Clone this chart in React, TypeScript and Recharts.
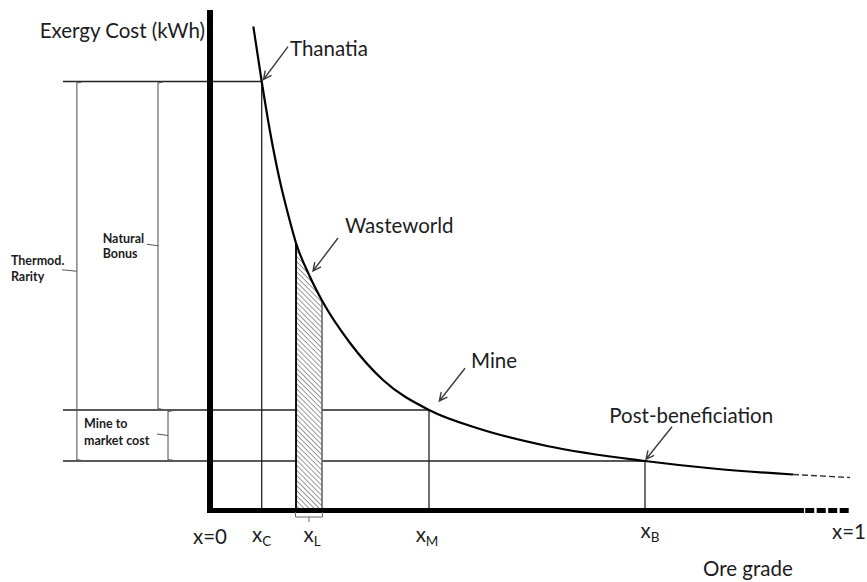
import React from "react";
import {
  ComposedChart,
  Line,
  Area,
  XAxis,
  YAxis,
  ReferenceLine,
  ReferenceDot,
} from "recharts";

// ---- data (ore grade x in [0,1], exergy cost in arbitrary units 0..100) ----
const curveGrade = [0.0677, 0.0808, 0.0938, 0.1094, 0.1223, 0.1344, 0.1563, 0.175, 0.2188, 0.2703, 0.3422, 0.4219, 0.5266, 0.6797, 0.7859, 0.9109];
const curveCost = [96.7, 85.7, 75.7, 65.7, 59.0, 53.4, 46.6, 41.9, 33.4, 26.0, 20.0, 16.2, 12.8, 9.8, 8.3, 7.1];
const tailGrade = [0.9109, 1.0];
const tailCost = [7.1, 6.5];

const gradeC = 0.0808;
const costThanatia = 85.7;
const wasteRange = [0.1344, 0.175];
const gradeM = 0.3422;
const costMine = 20.0;
const gradeB = 0.6797;
const costPost = 9.8;

const tickValues = [0, gradeC, (wasteRange[0] + wasteRange[1]) / 2, gradeM, gradeB, 1];
const tickMain = ["x=0", "x", "x", "x", "x", "x=1"];
const tickSub = ["", "C", "L", "M", "B", ""];

const curveData = curveGrade.map((g, i) => ({ grade: g, cost: curveCost[i] }));
const tailData = tailGrade.map((g, i) => ({ grade: g, cost: tailCost[i] }));
const wasteData = curveData.filter((d) => d.grade >= wasteRange[0] && d.grade <= wasteRange[1]);

// ---- layout / style ----
const X_MIN = -0.328125;
const GUIDE_LEFT = -0.2297;
const FONT = "Lato, 'Open Sans', sans-serif";
const INK = "#1c1c22";
const MAIN_SIZE = 20.5;
const SMALL_SIZE = 12.5;
const tickBaseline = [26, 24, 24, 24, 20, 20.5];
const tickShift = [0, 0, 3, -2, 5, -1];

function arrowPath(tx: number, ty: number, hx: number, hy: number) {
  const dx = hx - tx;
  const dy = hy - ty;
  const len = Math.sqrt(dx * dx + dy * dy) || 1;
  const ux = dx / len;
  const uy = dy / len;
  const L = 9;
  const a = (26 * Math.PI) / 180;
  const r1x = ux * Math.cos(a) - uy * Math.sin(a);
  const r1y = ux * Math.sin(a) + uy * Math.cos(a);
  const r2x = ux * Math.cos(-a) - uy * Math.sin(-a);
  const r2y = ux * Math.sin(-a) + uy * Math.cos(-a);
  return `M${tx},${ty} L${hx},${hy} M${hx - L * r1x},${hy - L * r1y} L${hx},${hy} L${hx - L * r2x},${hy - L * r2y}`;
}

function annotation(
  key: string,
  x: number,
  y: number,
  label: string,
  t: [number, number],
  tail: [number, number],
  head: [number, number]
) {
  return (
    <ReferenceDot
      key={key}
      x={x}
      y={y}
      r={2}
      ifOverflow="visible"
      shape={(p: any) => {
        const cx = p.cx;
        const cy = p.cy;
        return (
          <g>
            <path
              d={arrowPath(cx + tail[0], cy + tail[1], cx + head[0], cy + head[1])}
              stroke="#3c3c3c"
              strokeWidth={1.4}
              fill="none"
            />
            <text x={cx + t[0]} y={cy + t[1]} fontFamily={FONT} fontSize={MAIN_SIZE} fill={INK}>
              {label}
            </text>
          </g>
        );
      }}
    />
  );
}

function bracket(
  key: string,
  bx: number,
  top: number,
  bottom: number,
  lines: string[],
  textDx: number,
  textDy: number[],
  tickLen: number,
  hook: number
) {
  return (
    <ReferenceLine
      key={key}
      segment={[
        { x: bx, y: top },
        { x: bx, y: bottom },
      ]}
      ifOverflow="visible"
      shape={(p: any) => {
        const x = p.x1;
        const y1 = Math.min(p.y1, p.y2);
        const y2 = Math.max(p.y1, p.y2);
        const mid = (y1 + y2) / 2;
        return (
          <g>
            <path
              d={`M${x + hook},${y1 + 0.5} L${x},${y1 + 1.5} L${x},${y2 - 1.5} L${x + hook},${y2 - 0.5} M${x},${mid} L${x - tickLen},${mid - 1.5}`}
              stroke="#5a5a5a"
              strokeWidth={1.1}
              fill="none"
            />
            {lines.map((s, i) => (
              <text
                key={s}
                x={x + textDx}
                y={mid + textDy[i]}
                fontFamily={FONT}
                fontWeight={700}
                fontSize={SMALL_SIZE}
                fill={INK}
              >
                {s}
              </text>
            ))}
          </g>
        );
      }}
    />
  );
}

const renderTick = (props: any) => {
  const { x, y, payload } = props;
  const i = tickValues.indexOf(payload.value);
  if (i < 0) return <g />;
  const tx = x + tickShift[i];
  const ty = y + tickBaseline[i];
  return (
    <g>
      {i === 2 ? (
        <path
          d={`M${x - 13.5},${510 + 2} L${x - 13.5},${510 + 7} L${x + 13.5},${510 + 7} L${x + 13.5},${510 + 2} M${x},${510 + 7} L${x},${510 + 12}`}
          stroke="#6a6a6a"
          strokeWidth={1}
          fill="none"
        />
      ) : null}
      <text x={tx} y={ty} textAnchor="middle" fontFamily={FONT} fontSize={MAIN_SIZE} fill={INK}>
        {tickMain[i]}
        {tickSub[i] ? (
          <tspan fontSize={13.5} dy={4}>
            {tickSub[i]}
          </tspan>
        ) : null}
      </text>
    </g>
  );
};

export default function App() {
  return (
    <div style={{ position: "absolute", left: 0, top: 0, background: "#fff" }}>
      <ComposedChart
        width={867}
        height={582}
        margin={{ top: 10, right: 17, bottom: 32, left: 0 }}
      >
        <defs>
          <pattern id="hatch" width="3.6" height="3.6" patternUnits="userSpaceOnUse" patternTransform="rotate(45)">
            <rect width="3.6" height="3.6" fill="#fff" />
            <line x1="0" y1="0" x2="3.6" y2="0" stroke="#4a4a4a" strokeWidth="1.1" />
          </pattern>
        </defs>
        <XAxis
          dataKey="grade"
          type="number"
          domain={[X_MIN, 1]}
          allowDataOverflow
          ticks={tickValues}
          interval={0}
          axisLine={false}
          tickLine={false}
          height={40}
          tick={renderTick}
        />
        <YAxis type="number" domain={[0, 100]} allowDataOverflow hide />

        {/* guide lines */}
        <ReferenceLine segment={[{ x: GUIDE_LEFT, y: costThanatia }, { x: gradeC, y: costThanatia }]} stroke="#222" strokeWidth={1.3} />
        <ReferenceLine segment={[{ x: GUIDE_LEFT, y: costMine }, { x: wasteRange[0], y: costMine }]} stroke="#222" strokeWidth={1.3} />
        <ReferenceLine segment={[{ x: wasteRange[1], y: costMine }, { x: gradeM, y: costMine }]} stroke="#222" strokeWidth={1.3} />
        <ReferenceLine segment={[{ x: GUIDE_LEFT, y: costPost }, { x: wasteRange[0], y: costPost }]} stroke="#222" strokeWidth={1.3} />
        <ReferenceLine segment={[{ x: wasteRange[1], y: costPost }, { x: gradeB, y: costPost }]} stroke="#222" strokeWidth={1.3} />
        <ReferenceLine segment={[{ x: gradeC, y: 0 }, { x: gradeC, y: costThanatia }]} stroke="#222" strokeWidth={1.3} />
        <ReferenceLine segment={[{ x: gradeM, y: 0 }, { x: gradeM, y: costMine }]} stroke="#222" strokeWidth={1.3} />
        <ReferenceLine segment={[{ x: gradeB, y: 0 }, { x: gradeB, y: costPost }]} stroke="#222" strokeWidth={1.3} />

        {/* wasteworld hatched band */}
        <Area
          data={wasteData}
          dataKey="cost"
          type="monotone"
          stroke="none"
          fill="url(#hatch)"
          fillOpacity={1}
          isAnimationActive={false}
          baseValue={0}
        />
        <ReferenceLine segment={[{ x: wasteRange[0], y: 0 }, { x: wasteRange[0], y: wasteData[0].cost }]} stroke="#111" strokeWidth={2} />
        <ReferenceLine segment={[{ x: wasteRange[1], y: 0 }, { x: wasteRange[1], y: wasteData[wasteData.length - 1].cost }]} stroke="#666" strokeWidth={1.6} />

        {/* curve */}
        <Line data={curveData} dataKey="cost" type="monotone" stroke="#000" strokeWidth={2.2} dot={false} isAnimationActive={false} />
        <Line data={tailData} dataKey="cost" type="linear" stroke="#333" strokeWidth={1.4} strokeDasharray="6 3" dot={false} isAnimationActive={false} />

        {/* axes drawn as thick lines */}
        <ReferenceLine segment={[{ x: 0, y: 100 }, { x: 0, y: -0.6 }]} stroke="#000" strokeWidth={6} ifOverflow="visible" />
        <ReferenceLine segment={[{ x: -0.0047, y: -0.1 }, { x: 0.928, y: -0.1 }]} stroke="#000" strokeWidth={5} ifOverflow="visible" />
        <ReferenceLine segment={[{ x: 0.93, y: -0.1 }, { x: 1, y: -0.1 }]} stroke="#000" strokeWidth={5} strokeDasharray="9 2.5" ifOverflow="visible" />

        {/* brackets */}
        {bracket("rarity", -0.208, costThanatia, costPost, ["Thermod.", "Rarity"], -66, [-6.5, 10], 15, 5)}
        {bracket("bonus", -0.0813, costThanatia, costMine, ["Natural", "Bonus"], -55.3, [-2.7, 12.3], 11, 5)}
        {bracket("m2m", -0.0656, costMine, costPost, ["Mine to", "market cost"], -84, [-7.2, 9.5], 11, 6)}

        {/* annotations */}
        {annotation("thanatia", gradeC, costThanatia, "Thanatia", [28.3, -25.5], [26.3, -34.8], [1.8, -2])}
        {annotation("waste", wasteRange[0], wasteData[0].cost, "Wasteworld", [49, -10], [42, -5], [17, 28])}
        {annotation("mine", gradeM, costMine, "Mine", [42, -42], [36, -41.7], [10.3, -9])}
        {annotation("post", gradeB, costPost, "Post-beneficiation", [-35.7, -38.5], [27, -34.3], [1, -1.7])}

        {/* axis titles */}
        <ReferenceDot
          x={0}
          y={100}
          r={2}
          ifOverflow="visible"
          shape={(p: any) => (
            <text x={p.cx - 5} y={p.cy + 27.5} textAnchor="end" fontFamily={FONT} fontSize={MAIN_SIZE} fill={INK}>
              Exergy Cost (kWh)
            </text>
          )}
        />
        <ReferenceDot
          x={1}
          y={0}
          r={2}
          ifOverflow="visible"
          shape={(p: any) => (
            <text x={p.cx - 147} y={p.cy + 66} fontFamily={FONT} fontSize={MAIN_SIZE} fill={INK}>
              Ore grade
            </text>
          )}
        />
      </ComposedChart>
    </div>
  );
}
